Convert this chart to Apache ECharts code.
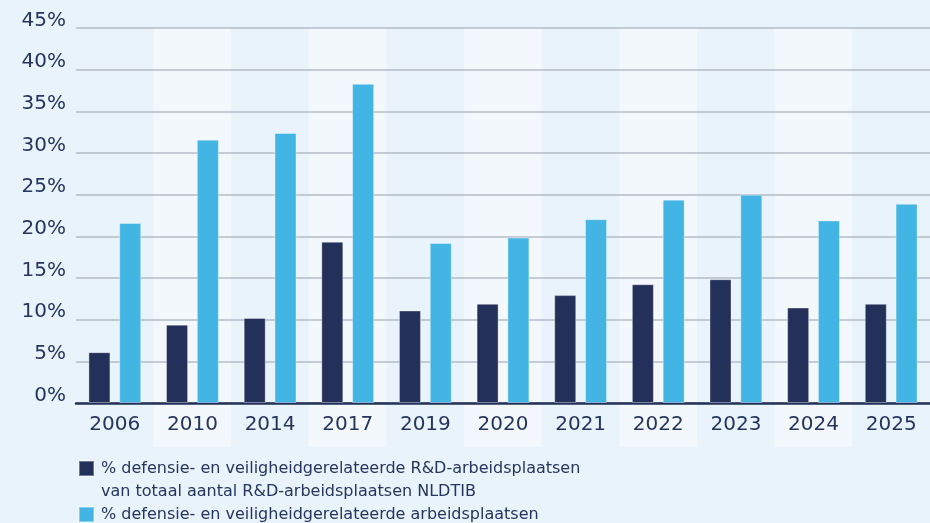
<!DOCTYPE html>
<html>
<head>
<meta charset="utf-8">
<style>
  html, body { margin: 0; padding: 0; background: #e8f3fc; }
  #chart { width: 930px; height: 523px; }
</style>
<script src="https://cdn.jsdelivr.net/npm/echarts@6/dist/echarts.min.js"></script>
</head>
<body>
<div id="chart"></div>
<script>
// Share of defence- and security-related jobs, NLDTIB
const years = ['2006', '2010', '2014', '2017', '2019', '2020', '2021', '2022', '2023', '2024', '2025'];
const rdShare = [6.1, 9.4, 10.2, 19.35, 11.1, 11.9, 12.95, 14.25, 14.85, 11.45, 11.9];
const jobShare = [21.6, 31.6, 32.4, 38.3, 19.2, 19.85, 22.05, 24.4, 25.0, 21.9, 23.9];
const rdName = '% defensie- en veiligheidgerelateerde R&D-arbeidsplaatsen\nvan totaal aantal R&D-arbeidsplaatsen NLDTIB';
const jobName = '% defensie- en veiligheidgerelateerde arbeidsplaatsen';

const navy = '#22305a';
const sky = '#42b5e5';
const textColor = '#26355f';
const font = 'DejaVu Sans';

const chart = echarts.init(document.getElementById('chart'), null, { renderer: 'canvas' });

chart.setOption({
  backgroundColor: '#e8f3fc',
  animation: false,
  textStyle: { fontFamily: font },
  grid: [
    // band layer: stretches below the axis to cover the year labels
    { left: 76, right: 0, top: 28, bottom: 76 },
    // plot layer
    { left: 76, right: 0, top: 28, bottom: 120 }
  ],
  xAxis: [
    {
      gridIndex: 0, type: 'category', data: years, z: -1,
      axisLine: { show: false }, axisTick: { show: false }, axisLabel: { show: false },
      splitLine: { show: false },
      splitArea: { show: true, areaStyle: { color: ['#e8f3fc', '#f3f8fd'] } }
    },
    {
      gridIndex: 1, type: 'category', data: years,
      axisLine: { show: true, lineStyle: { color: navy, width: 2.5 } },
      axisTick: { show: false },
      axisLabel: { color: textColor, fontSize: 20, fontFamily: font, margin: 12 },
      splitArea: { show: false }
    }
  ],
  yAxis: [
    { gridIndex: 0, type: 'value', min: 0, max: 1, show: false },
    {
      gridIndex: 1, type: 'value', min: 0, max: 45, interval: 5,
      axisLine: { show: false }, axisTick: { show: false },
      axisLabel: {
        color: textColor, fontSize: 20, fontFamily: font, margin: 10,
        verticalAlign: 'bottom', lineHeight: 15, formatter: '{value}%'
      },
      splitLine: { show: true, lineStyle: { color: '#b5bdc7', width: 1.5 } }
    }
  ],
  legend: [
    {
      data: [rdName], orient: 'vertical', left: 78, top: 434, padding: 0,
      itemWidth: 15, itemHeight: 15, icon: 'rect',
      // leading blank line keeps the first text line level with the swatch
      formatter: name => ' \n' + name,
      textStyle: { color: textColor, fontSize: 16, fontFamily: font, lineHeight: 23, padding: [0, 0, 0, 2] }
    },
    {
      data: [jobName], orient: 'vertical', left: 78, top: 503, padding: 0,
      itemWidth: 15, itemHeight: 15, icon: 'rect',
      textStyle: { color: textColor, fontSize: 16, fontFamily: font, lineHeight: 23, padding: [0, 0, 0, 2] }
    }
  ],
  series: [
    {
      name: rdName, type: 'bar', xAxisIndex: 1, yAxisIndex: 1, data: rdShare,
      barWidth: 22, barGap: '40%',
      itemStyle: { color: navy, borderColor: 'rgba(255,255,255,0.35)', borderWidth: 1 }
    },
    {
      name: jobName, type: 'bar', xAxisIndex: 1, yAxisIndex: 1, data: jobShare,
      barWidth: 22, barGap: '40%',
      itemStyle: { color: sky, borderColor: 'rgba(255,255,255,0.35)', borderWidth: 1 }
    }
  ]
});
</script>
</body>
</html>
